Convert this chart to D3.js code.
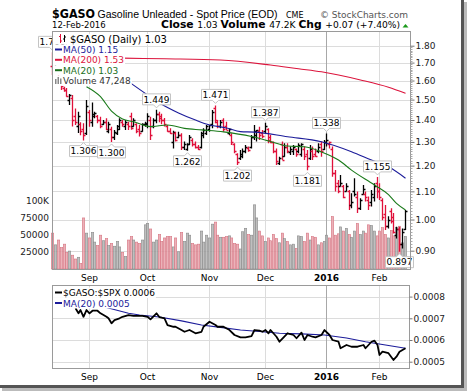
<!DOCTYPE html>
<html>
<head>
  <title>GASO</title>
  <script src="https://cdn.jsdelivr.net/npm/d3@7"></script>
  <style>
    body { margin: 0; background: #fff; }
    text { font-family: "DejaVu Sans", sans-serif; }
  </style>
</head>
<body>
  <svg width="468" height="391" id="mainsvg"></svg>
  <script>
    // trading days 13-Aug-2015 .. 12-Feb-2016
    const startDay = new Date(2015, 7, 13);
    const endDay = new Date(2016, 1, 12);
    const holidays = ['2015-09-07', '2015-11-26', '2015-12-25', '2016-01-01', '2016-01-18'];

    const opens = [1.68,1.66,1.66,1.60,1.56,1.55,1.50,1.51,1.42,1.37,
      1.38,1.36,1.34,1.44,1.39,1.42,1.42,1.40,1.38,1.39,
      1.35,1.36,1.32,1.34,1.36,1.39,1.37,1.38,1.42,1.37,
      1.38,1.36,1.35,1.38,1.38,1.40,1.37,1.40,1.43,1.42,
      1.40,1.37,1.35,1.30,1.34,1.32,1.33,1.28,1.27,1.29,
      1.31,1.29,1.28,1.28,1.33,1.34,1.36,1.38,1.46,1.39,
      1.37,1.40,1.37,1.34,1.33,1.29,1.25,1.23,1.24,1.26,
      1.275,1.28,1.32,1.33,1.35,1.34,1.35,1.36,1.32,1.30,
      1.26,1.21,1.29,1.24,1.28,1.255,1.26,1.27,1.26,1.25,
      1.27,1.25,1.23,1.26,1.25,1.26,1.29,1.27,1.30,1.29,
      1.27,1.17,1.13,1.12,1.12,1.10,1.10,1.05,1.10,1.08,
      1.04,1.09,1.09,1.07,1.06,1.08,1.13,1.10,1.07,1.02,
      0.98,1.03,1.01,0.95,0.97,0.92,0.97];
    const highs = [1.76,1.70,1.67,1.61,1.567,1.56,1.529,1.524,1.456,1.44,
      1.39,1.385,1.498,1.448,1.485,1.44,1.424,1.416,1.40,1.408,
      1.392,1.369,1.354,1.377,1.408,1.40,1.40,1.392,1.435,1.408,
      1.385,1.377,1.385,1.392,1.432,1.416,1.408,1.449,1.44,1.43,
      1.41,1.377,1.362,1.35,1.346,1.346,1.339,1.302,1.294,1.331,
      1.316,1.302,1.287,1.346,1.362,1.377,1.377,1.448,1.471,1.40,
      1.40,1.408,1.392,1.362,1.339,1.294,1.251,1.265,1.272,1.287,
      1.28,1.331,1.377,1.354,1.369,1.354,1.387,1.362,1.331,1.302,
      1.272,1.237,1.302,1.294,1.294,1.28,1.287,1.272,1.294,1.294,
      1.28,1.265,1.287,1.28,1.272,1.294,1.302,1.309,1.338,1.302,
      1.28,1.182,1.143,1.163,1.124,1.131,1.105,1.093,1.15,1.099,
      1.075,1.124,1.099,1.081,1.105,1.131,1.155,1.131,1.075,1.05,
      1.011,1.039,1.022,0.976,0.976,0.97,1.033];
    const lows = [1.63,1.64,1.59,1.55,1.541,1.515,1.473,1.37,1.377,1.34,
      1.33,1.306,1.331,1.369,1.369,1.408,1.385,1.362,1.377,1.354,
      1.339,1.30,1.309,1.331,1.354,1.369,1.354,1.354,1.355,1.369,
      1.339,1.324,1.346,1.369,1.362,1.309,1.362,1.385,1.39,1.38,
      1.37,1.346,1.335,1.272,1.302,1.316,1.265,1.265,1.262,1.287,
      1.28,1.272,1.265,1.272,1.316,1.331,1.346,1.362,1.385,1.362,
      1.362,1.346,1.354,1.331,1.287,1.251,1.202,1.223,1.23,1.251,
      1.258,1.272,1.309,1.302,1.309,1.316,1.339,1.294,1.294,1.251,
      1.202,1.202,1.223,1.237,1.251,1.244,1.244,1.237,1.251,1.237,
      1.223,1.181,1.223,1.223,1.237,1.251,1.237,1.265,1.28,1.272,
      1.156,1.099,1.093,1.118,1.075,1.099,1.033,1.039,1.081,1.022,
      1.033,1.087,1.063,1.033,1.045,1.063,1.075,1.068,0.998,0.965,
      0.97,0.987,0.954,0.938,0.897,0.907,0.965];
    const closes = [1.65,1.66,1.60,1.57,1.55,1.52,1.525,1.40,1.39,1.42,
      1.35,1.33,1.47,1.40,1.43,1.435,1.40,1.37,1.39,1.36,
      1.38,1.32,1.345,1.37,1.40,1.38,1.39,1.37,1.365,1.40,
      1.35,1.34,1.38,1.385,1.42,1.33,1.40,1.43,1.41,1.40,
      1.38,1.35,1.34,1.345,1.31,1.33,1.28,1.29,1.292,1.32,
      1.29,1.28,1.27,1.34,1.355,1.37,1.375,1.44,1.40,1.37,
      1.39,1.36,1.355,1.36,1.30,1.26,1.215,1.25,1.26,1.28,
      1.265,1.32,1.35,1.352,1.33,1.325,1.37,1.31,1.30,1.26,
      1.22,1.23,1.225,1.28,1.26,1.27,1.28,1.25,1.285,1.29,
      1.24,1.20,1.27,1.24,1.238,1.28,1.26,1.30,1.31,1.30,
      1.17,1.12,1.10,1.13,1.08,1.12,1.05,1.06,1.09,1.04,
      1.07,1.11,1.08,1.05,1.09,1.12,1.10,1.08,1.01,0.98,
      1.00,0.995,0.96,0.97,0.92,0.96,1.03];
    const volumes = [52000,35000,42000,31000,36000,24000,26000,20000,14500,17000,
      8000,74000,52000,45000,53000,39000,34000,49000,41000,44000,
      34000,37000,33000,40000,32000,24000,18000,42000,47000,42000,
      39000,37000,42000,64000,66000,58000,39000,42000,50000,40000,
      45000,47000,47000,32000,45000,25000,53000,40000,52000,49000,
      37000,35000,36000,55000,39000,49000,45000,65000,68000,49000,
      46000,46000,47000,48000,45000,37000,36000,29000,54000,59000,
      50000,49000,93000,74000,55000,48000,40000,45000,41000,50000,
      44000,38000,52000,44000,40000,35000,36000,30000,48000,47000,
      40000,52000,42000,47000,46000,35000,38000,40000,49000,45000,
      76000,49000,51000,61000,55000,59000,50000,46000,55000,66000,
      50000,55000,52000,64000,63000,55000,48000,55000,60000,50000,
      45000,56000,48000,60000,62000,38000,47248];

    // moving averages: [day index, value]
    const ma50 = [[27,1.594],[34,1.524],[38,1.483],[45,1.434],[51,1.400],[56,1.377],[62,1.363],[67,1.346],
      [72,1.344],[84,1.323],[96,1.301],[107,1.258],[114,1.223],[120,1.195],[126,1.15]];
    const ma200 = [[0,1.735],[25,1.726],[40,1.722],[60,1.715],[78,1.686],[88,1.665],[96,1.648],
      [110,1.603],[120,1.564],[126,1.532]];
    const ma20 = [[12,1.567],[17,1.515],[21,1.443],[25,1.405],[29,1.392],[35,1.369],[41,1.377],[47,1.361],
      [53,1.354],[61,1.345],[71,1.324],[78,1.302],[84,1.282],[90,1.279],[96,1.257],[102,1.223],
      [107,1.182],[115,1.124],[120,1.088],[123,1.056],[126,1.033]];

    // $GASO:$SPX ratio and its MA(20)
    const ratioIdx = [8,9,10,11,12,13,14,16,17,18,19,20,21,22,24,25,27,29,31,32,34,35,37,38,40,41,43,44,46,47,
      49,51,53,54,56,58,59,61,63,65,67,69,71,72,74,75,76,77,78,80,81,84,86,87,89,90,91,93,94,96,
      97,99,100,102,103,105,107,109,111,112,114,115,116,117,118,120,122,123,124,126];
    const ratioVal = [7.46,7.23,7.38,7.07,7.38,7.23,7.35,7.35,7.23,7.15,7.07,7.00,6.77,6.92,7.00,7.07,7.15,7.11,7.11,7.11,
      7.07,6.95,7.23,7.05,7.00,6.69,6.61,6.61,6.46,6.38,6.46,6.31,6.38,6.61,6.84,6.69,6.61,6.61,6.46,6.23,
      6.12,6.12,6.18,6.46,6.43,6.38,6.46,6.31,6.46,6.15,5.92,6.31,6.23,6.08,6.34,6.00,6.23,6.15,6.12,6.23,
      6.46,6.23,6.00,5.92,5.62,5.77,5.69,5.69,5.77,5.62,5.92,5.97,5.77,5.31,5.46,5.39,5.08,5.23,5.46,5.62]
      .map(v => v / 10000);
    const ratioMaIdx = [18,27,31,38,46,53,60,67,74,81,89,97,105,112,119,126];
    const ratioMaVal = [7.53,7.23,7.15,7.06,6.88,6.69,6.58,6.46,6.39,6.31,6.28,6.23,6.09,5.92,5.77,5.62]
      .map(v => v / 10000);

    // annotated highs / lows
    const annIdx = [0, 11, 21, 37, 48, 58, 66, 76, 91, 98, 116, 124];
    const annType = ['hi', 'lo', 'lo', 'hi', 'lo', 'hi', 'lo', 'hi', 'lo', 'hi', 'hi', 'lo'];

    const priceTicks = [0.9, 1.0, 1.1, 1.2, 1.3, 1.4, 1.5, 1.6, 1.7, 1.8];
    const volTicks = [25000, 50000, 75000, 100000];
    const volTickLabels = ['25000', '50000', '75000', '100K'];
    const ratioTicks = [0.0005, 0.0006, 0.0007, 0.0008];

    const svg = d3.select('#mainsvg');
    const fmtDay = d3.timeFormat('%Y-%m-%d');
    const days = d3.timeDay.range(startDay, d3.timeDay.offset(endDay, 1))
      .filter(d => d.getDay() % 6 !== 0 && !holidays.includes(fmtDay(d)));

    const main = { left: 52, right: 410, top: 31, bottom: 269 };
    const low = { left: 52, right: 409, top: 285, bottom: 368 };

    const x = d3.scaleBand().domain(d3.range(days.length)).range([51, 406]);
    const cx = i => Math.round(x(i) + x.bandwidth() / 2) + 0.5;
    const yP = d3.scaleLog().domain([0.9, 1.8]).range([250.7, 45.7]);
    const yV = d3.scaleLinear().domain([0, 100000]).range([269, 200]);
    const yR = d3.scaleLinear().domain([0.0005, 0.0008]).range([361.7, 296.6]);

    const monthStarts = d3.range(1, days.length).filter(i => days[i].getMonth() !== days[i - 1].getMonth());
    const monthLabel = i => days[i].getMonth() === 0 ? d3.timeFormat('%Y')(days[i]) : d3.timeFormat('%b')(days[i]);
    const isDown = i => closes[i] < (i > 0 ? closes[i - 1] : opens[i]);

    // ---------- header
    const head = svg.append('g');
    head.append('text').attr('x', 52).attr('y', 18.3).attr('font-size', 12.5).attr('font-weight', 'bold')
      .attr('textLength', 43).attr('lengthAdjust', 'spacingAndGlyphs').text('$GASO');
    head.append('text').attr('x', 97.5).attr('y', 17.5).attr('font-size', 10.5)
      .style('font-family', '"Liberation Sans", Arial')
      .attr('textLength', 180).attr('lengthAdjust', 'spacingAndGlyphs').text('Gasoline Unleaded - Spot Price (EOD)');
    head.append('text').attr('x', 286).attr('y', 17.5).attr('font-size', 8).text('CME');
    head.append('text').attr('x', 320).attr('y', 17.5).attr('font-size', 9).attr('fill', '#555')
      .attr('textLength', 88).text('\u00a9 StockCharts.com');
    head.append('text').attr('x', 52).attr('y', 28.3).attr('font-size', 8.5).text('12-Feb-2016');
    const info = head.append('text').attr('x', 161).attr('y', 28.3).attr('font-size', 8.5)
      .attr('textLength', 239).attr('lengthAdjust', 'spacingAndGlyphs');
    info.append('tspan').attr('font-weight', 'bold').attr('font-size', 10).text('Close ');
    info.append('tspan').text('1.03  ');
    info.append('tspan').attr('font-weight', 'bold').attr('font-size', 10).text('Volume ');
    info.append('tspan').text('47.2K  ');
    info.append('tspan').attr('font-weight', 'bold').attr('font-size', 10).text('Chg ');
    info.append('tspan').text('+0.07 (+7.40%)');
    head.append('path').attr('d', 'M402.5,27.5 L405.5,24 L408.5,27.5 Z').attr('fill', '#1a9a1a');

    // ---------- main panel grid
    const g = svg.append('g');
    g.selectAll('.hg').data(priceTicks).join('line')
      .attr('x1', main.left).attr('x2', main.right)
      .attr('y1', d => Math.round(yP(d)) + 0.5).attr('y2', d => Math.round(yP(d)) + 0.5)
      .attr('stroke', '#dcdcdc');
    g.selectAll('.vg').data(monthStarts).join('line')
      .attr('x1', cx).attr('x2', cx).attr('y1', main.top).attr('y2', main.bottom)
      .attr('stroke', i => days[i].getMonth() === 0 ? '#a8a8a8' : '#dcdcdc');

    // volume
    g.selectAll('.vol').data(volumes).join('rect')
      .attr('x', (d, i) => cx(i) - 1.2).attr('width', 2.4)
      .attr('y', d => yV(d)).attr('height', d => yV(0) - yV(d))
      .attr('fill', (d, i) => isDown(i) ? '#e8a4ad' : '#b4b4b4')
      .attr('fill-opacity', 0.85)
      .attr('stroke', (d, i) => isDown(i) ? '#d77683' : '#8c8c8c').attr('stroke-width', 0.6);

    // price bars
    g.selectAll('.bar').data(closes).join('path')
      .attr('d', (c, i) => {
        const X = cx(i);
        return `M${X},${yP(highs[i])}V${yP(lows[i])}M${X - 2},${Math.round(yP(opens[i])) + 0.5}H${X}M${X},${Math.round(yP(c)) + 0.5}H${X + 2}`;
      })
      .attr('fill', 'none').attr('stroke-width', 1.3)
      .attr('stroke', (c, i) => isDown(i) ? '#e0103a' : '#000');

    // moving averages
    const maLine = d3.line().x(d => cx(d[0])).y(d => yP(d[1])).curve(d3.curveMonotoneX);
    g.append('path').attr('d', maLine(ma200)).attr('fill', 'none').attr('stroke', '#dc143c').attr('stroke-width', 1.1);
    g.append('path').attr('d', maLine(ma50)).attr('fill', 'none').attr('stroke', '#1c1c9a').attr('stroke-width', 1.1);
    g.append('path').attr('d', maLine(ma20)).attr('fill', 'none').attr('stroke', '#1a7a1a').attr('stroke-width', 1.1);

    // annotations
    const ann = g.selectAll('.ann').data(annIdx).join('g');
    ann.each(function (i, k) {
      const el = d3.select(this);
      const v = annType[k] === 'hi' ? highs[i] : lows[i];
      const X = cx(i), w = 28, h = 11;
      const Y = yP(v);
      const top = annType[k] === 'hi' ? Y - 5 - h : Y + 5;
      const path = annType[k] === 'hi'
        ? `M${X - w / 2},${top}H${X + w / 2}V${top + h}H${X + 3}L${X},${top + h + 3}L${X - 3},${top + h}H${X - w / 2}Z`
        : `M${X - w / 2},${top}H${X - 3}L${X},${top - 3}L${X + 3},${top}H${X + w / 2}V${top + h}H${X - w / 2}Z`;
      el.append('path').attr('d', path).attr('fill', '#fff').attr('stroke', '#c4c4c4');
      el.append('text').attr('x', X).attr('y', top + 8.8).attr('text-anchor', 'middle')
        .attr('font-size', 9).text(d3.format('.3f')(v));
    });

    // legend
    const leg = svg.append('g');
    const legRows = [
      { y: 42.5, size: 10, color: '#000', text: '$GASO (Daily) 1.03', x: 70 },
      { y: 53, size: 9, color: '#1c1c9a', text: 'MA(50) 1.15', x: 63 },
      { y: 63.3, size: 9, color: '#dc143c', text: 'MA(200) 1.53', x: 63 },
      { y: 73.7, size: 9, color: '#1a6e1a', text: 'MA(20) 1.03', x: 63 },
      { y: 84, size: 9, color: '#333', text: 'Volume 47,248', x: 63 }
    ];
    legRows.forEach((r, k) => {
      const t = leg.append('text').attr('x', r.x).attr('y', r.y).attr('font-size', r.size)
        .attr('fill', r.color).text(r.text);
      const w = t.node().getComputedTextLength();
      leg.insert('rect', 'text').attr('x', 53).attr('y', r.y - 8.5).attr('width', r.x - 53 + w + 1)
        .attr('height', 10.4).attr('fill', '#fff');
      if (k >= 1 && k <= 3) {
        leg.append('line').attr('x1', 55).attr('x2', 62).attr('y1', r.y - 3.5).attr('y2', r.y - 3.5)
          .attr('stroke', r.color).attr('stroke-width', 2);
      }
    });
    leg.append('path').attr('d', 'M60.5,34V43M59,36.5H60.5M60.5,41H62').attr('stroke', '#e0103a').attr('fill', 'none');
    leg.append('path').attr('d', 'M64.5,35V42M63,39H64.5M64.5,37H66').attr('stroke', '#000').attr('fill', 'none');
    leg.append('path').attr('d', 'M55,84V79H56.5V84M57.5,84V77H59V84M60,84V78.5H61.5V84').attr('fill', '#888');

    // frame + price axis
    svg.append('rect').attr('x', main.left + 0.5).attr('y', main.top + 0.5)
      .attr('width', main.right - main.left).attr('height', main.bottom - main.top)
      .attr('fill', 'none').attr('stroke', '#9a9a9a');
    const minor = d3.range(91, 180).map(v => v / 100).filter(v => Math.round(v * 100) % 10 !== 0);
    svg.selectAll('.mt').data(minor).join('line')
      .attr('x1', main.right + 0.5).attr('x2', main.right + 2.5)
      .attr('y1', d => Math.round(yP(d)) + 0.5).attr('y2', d => Math.round(yP(d)) + 0.5)
      .attr('stroke', '#aaa');
    const pAxis = svg.append('g').attr('transform', `translate(${main.right + 0.5},0)`)
      .call(d3.axisRight(yP).tickValues(priceTicks).tickFormat(d3.format('.2f')).tickSize(4).tickPadding(1));
    pAxis.select('.domain').remove();
    pAxis.selectAll('line').attr('stroke', '#777');
    pAxis.selectAll('text').attr('font-size', 9).attr('font-family', '"DejaVu Sans"').attr('fill', '#222');

    svg.selectAll('.vl').data(volTicks).join('text')
      .attr('x', 49).attr('y', d => yV(d) + 3.5).attr('text-anchor', 'end')
      .attr('font-size', 9).attr('fill', '#222').text((d, k) => volTickLabels[k]);

    const monthText = (sel, y) => sel.selectAll(null).data(monthStarts).join('text')
      .attr('x', cx).attr('y', y).attr('text-anchor', 'middle').attr('font-size', 9)
      .attr('font-weight', i => days[i].getMonth() === 0 ? 'bold' : 'normal')
      .text(monthLabel);
    monthText(svg.append('g'), 281);

    // ---------- lower panel
    const lg = svg.append('g');
    lg.selectAll('.hg').data(ratioTicks).join('line')
      .attr('x1', low.left).attr('x2', low.right)
      .attr('y1', d => Math.round(yR(d)) + 0.5).attr('y2', d => Math.round(yR(d)) + 0.5)
      .attr('stroke', '#dcdcdc');
    lg.selectAll('.vg').data(monthStarts).join('line')
      .attr('x1', cx).attr('x2', cx).attr('y1', low.top).attr('y2', low.bottom)
      .attr('stroke', i => days[i].getMonth() === 0 ? '#a8a8a8' : '#dcdcdc');
    const rLine = d3.line().x(d => cx(d[0])).y(d => yR(d[1]));
    lg.append('path').attr('d', rLine(ratioMaIdx.map((d, k) => [d, ratioMaVal[k]])))
      .attr('fill', 'none').attr('stroke', '#1c1c9a').attr('stroke-width', 1.1);
    lg.append('path').attr('d', rLine(ratioIdx.map((d, k) => [d, ratioVal[k]])))
      .attr('fill', 'none').attr('stroke', '#000').attr('stroke-width', 1.8).attr('stroke-linejoin', 'round');

    const lRows = [
      { y: 296, color: '#000', text: '$GASO:$SPX 0.0006' },
      { y: 306.5, color: '#1c1c9a', text: 'MA(20) 0.0005' }
    ];
    lRows.forEach(r => {
      const t = lg.append('text').attr('x', 63).attr('y', r.y).attr('font-size', 9).attr('fill', r.color).text(r.text);
      const w = t.node().getComputedTextLength();
      lg.insert('rect', 'text').attr('x', 53).attr('y', r.y - 8.5).attr('width', 10 + w + 1)
        .attr('height', 10.4).attr('fill', '#fff');
      lg.append('line').attr('x1', 55).attr('x2', 62).attr('y1', r.y - 3.5).attr('y2', r.y - 3.5)
        .attr('stroke', r.color).attr('stroke-width', 2);
    });

    svg.append('rect').attr('x', low.left + 0.5).attr('y', low.top + 0.5)
      .attr('width', low.right - low.left).attr('height', low.bottom - low.top)
      .attr('fill', 'none').attr('stroke', '#9a9a9a');
    const rAxis = svg.append('g').attr('transform', `translate(${low.right + 0.5},0)`)
      .call(d3.axisRight(yR).tickValues(ratioTicks).tickFormat(d3.format('.4f')).tickSize(3).tickPadding(1));
    rAxis.select('.domain').remove();
    rAxis.selectAll('line').attr('stroke', '#777');
    rAxis.selectAll('text').attr('font-size', 9).attr('font-family', '"DejaVu Sans"').attr('fill', '#222');
    monthText(svg.append('g'), 380);

    // outer shadow frame
    svg.append('rect').attr('x', 461).attr('y', 0).attr('width', 3).attr('height', 388).attr('fill', '#555');
    svg.append('rect').attr('x', 464).attr('y', 2).attr('width', 3).attr('height', 388).attr('fill', '#bbb');
    svg.append('rect').attr('x', 0).attr('y', 385).attr('width', 464).attr('height', 3).attr('fill', '#555');
    svg.append('rect').attr('x', 2).attr('y', 388).attr('width', 465).attr('height', 3).attr('fill', '#bbb');
  </script>
</body>
</html>
